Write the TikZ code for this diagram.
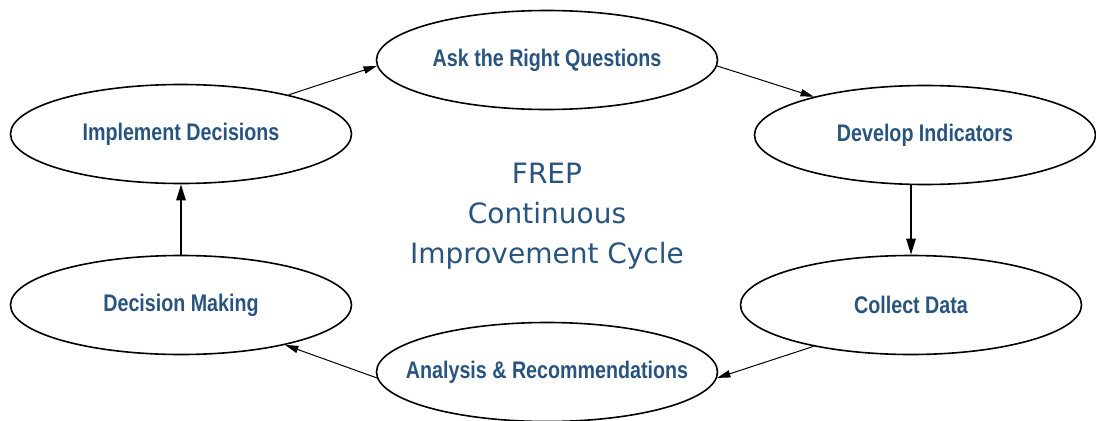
\documentclass[tikz,border=0pt]{standalone}
\usepackage{fontspec}
\usetikzlibrary{shapes.geometric,arrows.meta}
\newfontfamily\stagefont[FakeStretch=0.82]{Liberation Sans}
\newfontfamily\cyclefont{DejaVu Sans}
\definecolor{stageblue}{HTML}{28547E}
% the ellipse keeps its size, whatever the label width
\newcommand{\stagelabel}[1]{\makebox[0pt]{#1}}
\tikzset{
	stage/.style={ellipse, draw, line width=1.2pt, inner sep=0pt, minimum width=255.75pt, minimum height=74.25pt, text=stageblue, font=\stagefont\bfseries\fontsize{18}{21}\selectfont},
	linkThin/.style={line width=0.75pt, -{Triangle[length=10pt, width=5.5pt]}},
	linkThick/.style={line width=1.3pt, -{Triangle[length=12pt, width=7pt]}}
}
\begin{document}
\begin{tikzpicture}[x=0.75pt, y=-0.75pt]
		
		\useasboundingbox (0,0) rectangle (1096,421);
		
		% Stages of the cycle
		\node (stageAsk) at (547,60) [stage]{\stagelabel{Ask the Right Questions}};
		\node (stageDevelop) at (925,135) [stage]{\stagelabel{Develop Indicators}};
		\node (stageCollect) at (911,305) [stage]{\stagelabel{Collect Data}};
		\node (stageAnalysis) at (547,372) [stage]{\stagelabel{Analysis \& Recommendations}};
		\node (stageDecision) at (181,305) [stage]{\stagelabel{Decision Making}};
		\node (stageImplement) at (181,134) [stage]{\stagelabel{Implement Decisions}};
		
		% Title in the middle
		\node (cycleTitle) at (547,216) [text=stageblue, align=center, font=\cyclefont\fontsize{21}{30}\selectfont]{FREP\\Continuous\\Improvement Cycle};
		
		% Linking the stages
		\draw[linkThin] (stageImplement.20) -- (stageAsk.182);
		\draw[linkThin] (stageAsk.-2) -- (stageDevelop.161);
		\draw[linkThick] (stageCollect.north |- stageDevelop.south) -- (stageCollect.north);
		\draw[linkThin] (stageCollect.203) -- (stageAnalysis.-2);
		\draw[linkThin] (stageAnalysis.182) -- (stageDecision.-21);
		\draw[linkThick] (stageDecision.north) -- (stageImplement.south);
		
\end{tikzpicture}
\end{document}
